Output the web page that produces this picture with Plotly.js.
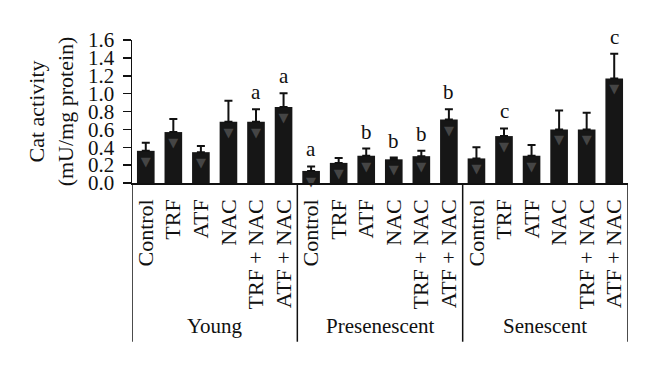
<!DOCTYPE html>
<html>
<head>
<meta charset="utf-8">
<script src="https://cdn.plot.ly/plotly-3.0.1.min.js"></script>
<style>html,body{margin:0;padding:0;background:#fff;}#chart{width:660px;height:373px;}</style>
</head>
<body>
<div id="chart"></div>
<script>
// ---- data ----
const groups = ["Young", "Presenescent", "Senescent"];
const treatments = ["Control", "TRF", "ATF", "NAC", "TRF + NAC", "ATF + NAC"];
const youngMean = [0.36, 0.57, 0.345, 0.685, 0.685, 0.85];
const youngErr  = [0.09, 0.145, 0.07, 0.235, 0.14, 0.155];
const preMean   = [0.135, 0.225, 0.305, 0.265, 0.30, 0.71];
const preErr    = [0.05, 0.055, 0.08, 0.02, 0.06, 0.115];
const senMean   = [0.275, 0.525, 0.305, 0.60, 0.60, 1.17];
const senErr    = [0.125, 0.085, 0.12, 0.21, 0.185, 0.275];
const youngSig  = ["", "", "", "", "a", "a"];
const preSig    = ["a", "", "b", "b", "b", "b"];
const senSig    = ["", "c", "", "", "", "c"];
const yTicks    = [0, 0.2, 0.4, 0.6, 0.8, 1.0, 1.2, 1.4, 1.6];

// ---- build traces ----
const nT = treatments.length;
const xPos = [], xLab = [], means = [], errs = [], sig = [];
const sets = [[youngMean, youngErr, youngSig], [preMean, preErr, preSig], [senMean, senErr, senSig]];
groups.forEach((g, gi) => {
  treatments.forEach((t, ti) => {
    xPos.push(gi * nT + ti); xLab.push(t);
    means.push(sets[gi][0][ti]); errs.push(sets[gi][1][ti]); sig.push(sets[gi][2][ti]);
  });
});
const tops = means.map((m, i) => m + errs[i]);
const serif = "Liberation Serif, Times New Roman, serif";
const ink = "#111";

const bars = {
  type: "bar",
  x: xPos,
  y: means,
  marker: {color: "#161616", line: {width: 0}},
  text: means.map(() => "\u25BC"),
  textposition: "inside",
  insidetextanchor: "end",
  textangle: 0,
  constraintext: "none",
  textfont: {family: "DejaVu Sans", size: 13, color: "#454545"},
  error_y: {type: "data", symmetric: false, array: errs, arrayminus: errs.map(() => 0),
            color: ink, thickness: 2, width: 4},
  hoverinfo: "none",
  cliponaxis: false
};

// significance letters above the error bars
const annotations = [];
sig.forEach((s, i) => {
  if (!s) return;
  annotations.push({text: s, xref: "x", yref: "y", x: xPos[i], y: tops[i],
    xanchor: "center", yanchor: "bottom", yshift: 3, showarrow: false,
    font: {family: serif, size: 21, color: ink}});
});
// group labels and dividers below the axis
groups.forEach((g, gi) => annotations.push({
  text: g, xref: "x", yref: "paper",
  x: gi * nT + (nT - 1) / 2, y: -0.905,
  xanchor: "center", yanchor: "top", showarrow: false,
  font: {family: serif, size: 21, color: ink}
}));
const shapes = [];
for (let gi = 0; gi <= groups.length; gi++) {
  shapes.push({type: "line", xref: "x", yref: "paper",
    x0: gi * nT - 0.5, x1: gi * nT - 0.5, y0: 0, y1: -1.11,
    line: {color: ink, width: 1.5}});
}

const layout = {
  width: 660, height: 373,
  margin: {l: 132, r: 32, t: 40, b: 190},
  paper_bgcolor: "#fff", plot_bgcolor: "#fff",
  showlegend: false,
  bargap: 0.36,
  font: {family: serif, color: ink, size: 21},
  annotations: annotations,
  shapes: shapes,
  xaxis: {
    range: [-0.5, groups.length * nT - 0.5],
    tickvals: xPos, ticktext: xLab,
    showline: true, linecolor: ink, linewidth: 1.5,
    ticks: "", showgrid: false, zeroline: false,
    tickangle: -90, ticklabelstandoff: 6,
    tickfont: {family: serif, size: 22, color: ink}
  },
  yaxis: {
    range: [0, 1.6], tickvals: yTicks, tickformat: ".1f",
    showline: true, linecolor: ink, linewidth: 1.5,
    ticks: "outside", ticklen: 8, tickwidth: 1.5, tickcolor: ink,
    ticklabelstandoff: 4,
    showgrid: false, zeroline: false,
    tickfont: {family: serif, size: 21, color: ink},
    title: {text: "Cat activity<br>(mU/mg protein)", font: {family: serif, size: 22, color: ink}, standoff: 8}
  }
};
Plotly.newPlot("chart", [bars], layout, {staticPlot: true});
</script>
</body>
</html>
